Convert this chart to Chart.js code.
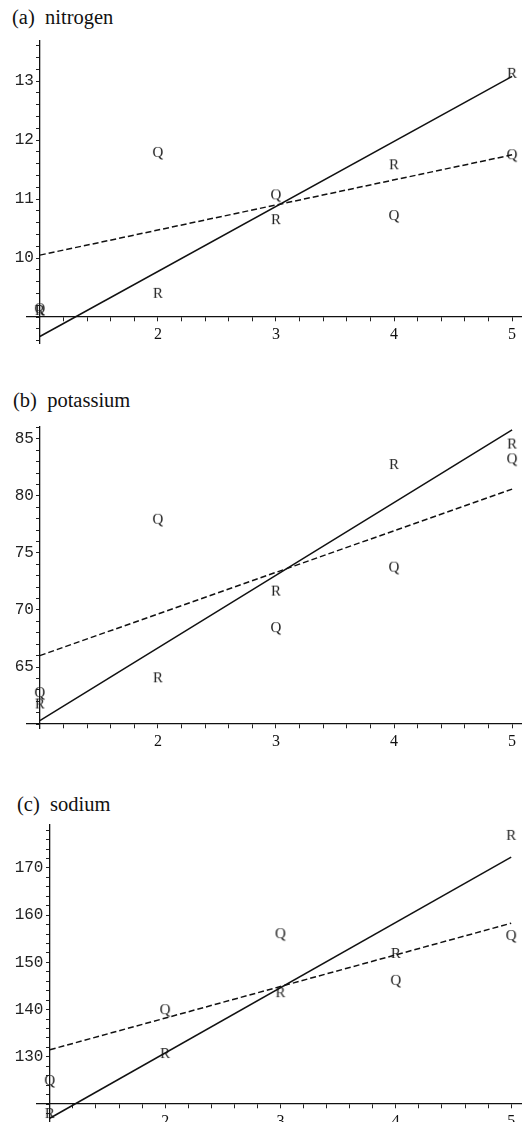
<!DOCTYPE html>
<html>
<head>
<meta charset="utf-8">
<script src="https://cdn.jsdelivr.net/npm/chart.js@4/dist/chart.umd.min.js"></script>
<style>
  html, body { margin: 0; padding: 0; background: #fff; }
  body { width: 528px; height: 1122px; overflow: hidden; position: relative; }
  .title { position: absolute; font: 20.5px "Liberation Serif", serif; color: #111; white-space: pre; line-height: 20px; }
  canvas { position: absolute; left: 0; }
</style>
</head>
<body>
<div class="title" style="left:12px; top:7px;">(a)  nitrogen</div>
<canvas id="nitrogen" width="528" height="380" style="top:0px;"></canvas>
<div class="title" style="left:13px; top:390px;">(b)  potassium</div>
<canvas id="potassium" width="528" height="400" style="top:360px;"></canvas>
<div class="title" style="left:17px; top:794px;">(c)  sodium</div>
<canvas id="sodium" width="528" height="404" style="top:750px;"></canvas>
<script>
// x positions shared by all three panels
const xCats = [1, 2, 3, 4, 5];
const lineX = [1, 5];
const xTickLabels = [2, 3, 4, 5];

// (a) nitrogen
const nitrogenR = [9.12, 9.41, 10.66, 11.59, 13.14];
const nitrogenQ = [9.15, 11.80, 11.08, 10.73, 11.76];
const nitrogenSolid = [8.67, 13.08];
const nitrogenDashed = [10.05, 11.75];
const nitrogenTicks = [10, 11, 12, 13];

// (b) potassium
const potassiumR = [61.8, 64.1, 71.7, 82.8, 84.6];
const potassiumQ = [62.8, 78.0, 68.5, 73.8, 83.3];
const potassiumSolid = [60.3, 85.8];
const potassiumDashed = [66.0, 80.6];
const potassiumTicks = [65, 70, 75, 80, 85];

// (c) sodium
const sodiumR = [118.1, 130.8, 143.7, 152.0, 177.0];
const sodiumQ = [125.1, 140.1, 156.2, 146.3, 155.8];
const sodiumSolid = [117.0, 172.3];
const sodiumDashed = [131.5, 158.3];
const sodiumTicks = [130, 140, 150, 160, 170];

// letters used as plot markers
function glyph(ch) {
    const c = document.createElement('canvas');
    c.width = 14;
    c.height = 18;
    const g = c.getContext('2d');
    g.font = '15px "Liberation Serif"';
    g.fillStyle = '#222';
    g.textAlign = 'center';
    g.textBaseline = 'alphabetic';
    g.fillText(ch, 7, 14);
    return c;
}
const markR = glyph('R');
const markQ = glyph('Q');

const toPoints = (xs, ys) => xs.map((x, i) => ({ x: x, y: ys[i] }));
const isLabel = (list) => (v) => list.some(t => Math.abs(t - v) < 1e-6) ? String(Math.round(v)) : '';

function makePanel(id, p) {
    new Chart(document.getElementById(id), {
        type: 'scatter',
        data: {
            datasets: [
                { data: toPoints(lineX, p.solid), showLine: true, borderColor: '#111', borderWidth: 1.5, pointRadius: 0, clip: false },
                { data: toPoints(lineX, p.dashed), showLine: true, borderColor: '#111', borderWidth: 1.5, borderDash: [6, 3], pointRadius: 0, clip: false },
                { data: toPoints(xCats, p.q), pointStyle: markQ, pointRadius: 6, clip: false },
                { data: toPoints(xCats, p.r), pointStyle: markR, pointRadius: 6, clip: false }
            ]
        },
        options: {
            responsive: false,
            animation: false,
            events: [],
            layout: { padding: { left: p.left, right: 0, top: p.top, bottom: p.bottom } },
            plugins: { legend: { display: false }, tooltip: { enabled: false } },
            scales: {
                x: {
                    type: 'linear',
                    min: p.xmin, max: p.xmax,
                    position: { y: p.origin },
                    border: { display: true, color: '#111', width: 1.3 },
                    grid: { drawOnChartArea: false, drawTicks: true, tickLength: 4, tickColor: '#222' },
                    ticks: {
                        stepSize: 0.2, autoSkip: false, includeBounds: false, maxRotation: 0,
                        padding: 4, color: '#111',
                        font: { family: '"Liberation Serif"', size: 16 },
                        callback: isLabel(xTickLabels)
                    }
                },
                // labels only, placed a few px left of the axis line
                y: {
                    type: 'linear',
                    min: p.ymin, max: p.ymax,
                    position: { x: p.labelX },
                    border: { display: false },
                    grid: { display: false },
                    ticks: {
                        stepSize: p.step, autoSkip: false, includeBounds: false,
                        color: '#222',
                        font: { family: '"Liberation Mono"', size: 16 },
                        callback: isLabel(p.ticks)
                    }
                },
                // axis line with its tick marks
                yAxis: {
                    type: 'linear',
                    min: p.ymin, max: p.ymax,
                    position: { x: 1 },
                    border: { display: true, color: '#111', width: 1.3 },
                    grid: { drawOnChartArea: false, drawTicks: true, tickLength: 3, tickColor: '#222' },
                    ticks: {
                        stepSize: p.step, autoSkip: false, includeBounds: false,
                        callback: () => ''
                    }
                }
            }
        }
    });
}

makePanel('nitrogen', {
    r: nitrogenR, q: nitrogenQ, solid: nitrogenSolid, dashed: nitrogenDashed, ticks: nitrogenTicks,
    step: 0.2, origin: 9, ymin: 8.56, ymax: 13.68, xmin: 0.8914, xmax: 5.0752, labelX: 0.95,
    left: 27, top: 41, bottom: 37
});
makePanel('potassium', {
    r: potassiumR, q: potassiumQ, solid: potassiumSolid, dashed: potassiumDashed, ticks: potassiumTicks,
    step: 1, origin: 60, ymin: 59.65, ymax: 86.05, xmin: 0.8914, xmax: 5.0752, labelX: 0.95,
    left: 27, top: 67, bottom: 32
});
makePanel('sodium', {
    r: sodiumR, q: sodiumQ, solid: sodiumSolid, dashed: sodiumDashed, ticks: sodiumTicks,
    step: 2, origin: 120, ymin: 116.2, ymax: 179.1, xmin: 0.889, xmax: 5.085, labelX: 0.945,
    left: 37, top: 75, bottom: 32
});
</script>
</body>
</html>
